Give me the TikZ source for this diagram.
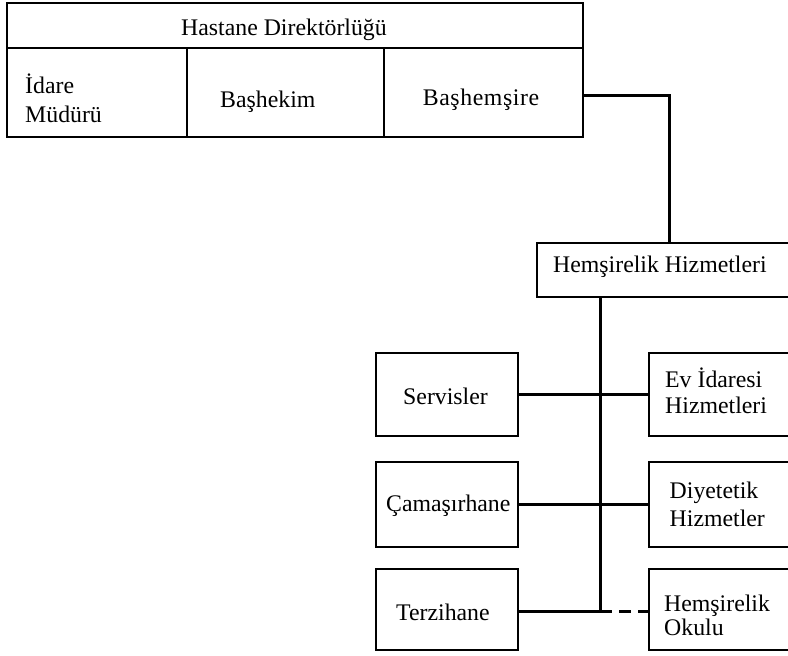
\documentclass[tikz,border=0pt]{standalone}
\usepackage{fontspec}
\setmainfont{Liberation Serif}
% two left-aligned lines, baseline on the first line, with extra leading
\newcommand\twolines[3]{\begin{tabular}[t]{@{}l@{}}#1\\[#3]#2\end{tabular}}
\begin{document}
\begin{tikzpicture}[x=1pt,y=-1pt,
  box/.style={draw, line width=2.8pt, inner sep=0pt},
  lbl/.style={anchor=base west, inner sep=0pt, font=\fontsize{23.8}{24}\selectfont},
  link/.style={line width=3pt}]
\useasboundingbox (0,0) rectangle (788,656);

% management block
\node[box, minimum width=576pt, minimum height=45pt] (dir) at (295,25.5) {};
\node[box, minimum width=180pt, minimum height=89pt] (idare) at (97,92.5) {};
\node[box, minimum width=197pt, minimum height=89pt] (bhek) at (285.5,92.5) {};
\node[box, minimum width=199pt, minimum height=89pt] (bas) at (483.5,92.5) {};

\node[lbl] (tdir) at (181,35) {Hastane Direktörlüğü};
\node[lbl] (tidare) at (25,93) {\twolines{İdare}{Müdürü}{5pt}};
\node[lbl] (tbhek) at (220,107) {Başhekim};
\node[lbl, anchor=base] (tbas) at (481,105) {\addfontfeature{LetterSpace=2.5}Başhemşire};

% nursing services
\node[box, minimum width=264pt, minimum height=54pt] (hh) at (669,270) {};
\node[lbl] (thh) at (553,272) {Hemşirelik Hizmetleri};

% left column
\node[box, minimum width=142pt, minimum height=83pt] (serv) at (447,394.5) {};
\node[box, minimum width=142pt, minimum height=85pt] (cama) at (447,504.5) {};
\node[box, minimum width=142pt, minimum height=81pt] (terzi) at (447,609.5) {};
\node[lbl] (tserv) at (403,404) {Servisler};
\node[lbl] (tcama) at (386,511) {Çamaşırhane};
\node[lbl] (tterzi) at (396,620) {Terzihane};

% right column
\node[box, minimum width=151pt, minimum height=83pt] (ev) at (724.5,394.5) {};
\node[box, minimum width=151pt, minimum height=85pt] (diy) at (724.5,504.5) {};
\node[box, minimum width=151pt, minimum height=81pt] (okul) at (724.5,609.5) {};
\node[lbl] (tev) at (665,387) {\twolines{Ev İdaresi}{Hizmetleri}{2pt}};
\node[lbl] (tdiy) at (669.5,498) {\twolines{Diyetetik}{Hizmetler}{4pt}};
\node[lbl] (tokul) at (664,611) {\twolines{Hemşirelik}{Okulu}{0pt}};

% connectors
\coordinate (trunk) at (600,611);
\draw[link] ([yshift=-2.5pt]bas.east) -| (hh.north);
\draw[link] (hh.south -| trunk) -- (trunk);
\draw[link] (serv) -- (ev);
\draw[link] (cama) -- (diy);
\draw[link] (terzi.east |- trunk) -- (trunk);
\draw[link, dash pattern=on 12pt off 7pt] (trunk) -- (okul.west |- trunk);
\end{tikzpicture}
\end{document}
